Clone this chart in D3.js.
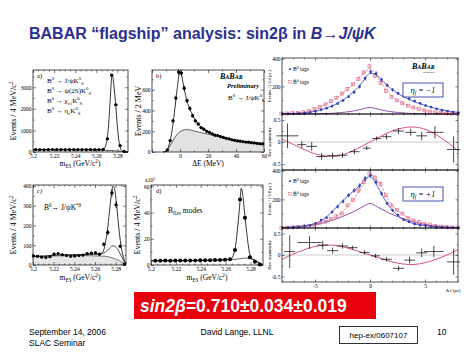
<!DOCTYPE html>
<html>
<head>
<meta charset="utf-8">
<script src="https://cdn.jsdelivr.net/npm/d3@7"></script>
<style>
  body { margin: 0; background: #fff; }
  svg { display: block; }
</style>
</head>
<body>
<div id="chart"></div>
<script>
// ---------- data ----------

// (a) m_ES for B0 -> charmonium K0S
const mesA = [5.2025, 5.2065, 5.2105, 5.2145, 5.2185, 5.2225, 5.2265, 5.2305, 5.2345, 5.2385, 5.2425,
  5.2465, 5.2505, 5.2545, 5.2585, 5.2625, 5.2665, 5.2705, 5.2745, 5.2785, 5.2825, 5.2865];
const eventsA = [108, 112, 105, 110, 115, 108, 112, 110, 106, 114, 110, 112, 108, 115, 110, 112, 125, 610, 3560, 2190, 300, 20];
const fitA = [[5.2, 105], [5.21, 108], [5.22, 110], [5.23, 112], [5.24, 113], [5.25, 113], [5.26, 112], [5.265, 115],
  [5.267, 140], [5.269, 330], [5.2705, 700], [5.272, 1500], [5.273, 2300], [5.274, 3150], [5.2748, 3600],
  [5.2755, 3520], [5.2765, 3150], [5.2775, 2650], [5.2785, 2100], [5.2795, 1450], [5.281, 650], [5.2825, 250],
  [5.284, 80], [5.286, 25], [5.288, 8], [5.29, 0]];
const bkgA = [[5.2, 100], [5.22, 102], [5.24, 100], [5.26, 90], [5.27, 75], [5.28, 50], [5.285, 30], [5.29, 0]];

// (b) Delta E for B0 -> J/psi K0L
const deB = [-9, -7, -5, -3, -1, 1, 3, 5, 7, 9, 11, 13, 15, 17, 19, 21, 23, 25, 27, 29, 31, 33, 35, 37, 39,
  41, 43, 45, 47, 49, 51, 53, 55, 57, 59];
const eventsB = [20, 110, 300, 520, 770, 760, 615, 495, 420, 350, 300, 270, 235, 220, 200, 190, 175, 162, 158,
  148, 140, 132, 127, 118, 112, 108, 104, 100, 96, 95, 90, 87, 84, 80, 78];
const fitB = [[-12, 0], [-10, 10], [-8, 60], [-6, 180], [-4, 380], [-2, 610], [-1, 720], [0, 765], [1, 750], [2, 680],
  [3, 610], [4, 545], [5, 490], [7, 415], [9, 355], [11, 305], [13, 268], [15, 240], [17, 218], [20, 195],
  [25, 165], [30, 145], [35, 126], [40, 110], [45, 100], [50, 92], [55, 84], [60, 78]];
const bkgB = [[-12, 0], [-10, 8], [-8, 40], [-6, 90], [-4, 135], [-2, 170], [0, 195], [2, 210], [4, 216], [6, 215],
  [8, 210], [10, 203], [14, 190], [20, 172], [25, 158], [30, 143], [35, 126], [40, 110], [45, 100], [50, 92],
  [55, 84], [60, 78]];

// (c) m_ES for B0 -> J/psi K*0
const mesC = [5.2004, 5.2044, 5.2084, 5.2124, 5.2164, 5.2204, 5.2244, 5.2284, 5.2324, 5.2364, 5.2404, 5.2444,
  5.2484, 5.2524, 5.2564, 5.2604, 5.2644, 5.2684, 5.2724, 5.2764, 5.2804, 5.2844, 5.2884];
const eventsC = [46, 44, 40, 38, 42, 55, 58, 52, 48, 44, 46, 48, 50, 58, 60, 62, 55, 105, 165, 365, 305, 95, 5];
const fitC = [[5.2, 45], [5.21, 45], [5.22, 50], [5.23, 52], [5.24, 52], [5.25, 53], [5.26, 55], [5.265, 57],
  [5.268, 70], [5.27, 110], [5.272, 175], [5.274, 270], [5.276, 365], [5.2775, 400], [5.279, 385], [5.281, 300],
  [5.283, 190], [5.285, 105], [5.287, 50], [5.289, 15], [5.29, 5]];
const peakBkgC = [[5.26, 55], [5.265, 57], [5.27, 65], [5.274, 85], [5.277, 97], [5.28, 92], [5.283, 70],
  [5.286, 40], [5.289, 12], [5.29, 5]];
const bkgC = [[5.2, 42], [5.21, 44], [5.22, 46], [5.23, 47], [5.24, 48], [5.25, 48], [5.26, 46], [5.27, 44],
  [5.28, 30], [5.285, 18], [5.29, 0]];

// (d) m_ES for B_flav modes (x10^3)
const mesD = [5.2035, 5.2075, 5.2115, 5.2155, 5.2195, 5.2235, 5.2275, 5.2315, 5.2355, 5.2395, 5.2435, 5.2475,
  5.2515, 5.2555, 5.2595, 5.2635, 5.2675, 5.2715, 5.2755, 5.2795, 5.2835, 5.2875];
const eventsD = [3.2, 3.3, 3.4, 3.3, 3.4, 3.5, 3.4, 3.5, 3.5, 3.6, 3.6, 3.7, 3.8, 3.9, 4.0, 4.3, 11.4, 50, 36, 6, 2.5, 0.4];
const fitD = [[5.2, 3.2], [5.24, 3.5], [5.26, 4.0], [5.264, 4.5], [5.266, 7], [5.268, 15], [5.27, 32], [5.2715, 48],
  [5.2725, 58.5], [5.2735, 55], [5.275, 42], [5.277, 24], [5.279, 10], [5.281, 5], [5.284, 3.5], [5.287, 1.5], [5.29, 0]];
const bkgD = [[5.2, 3.2], [5.24, 3.5], [5.26, 3.9], [5.27, 4.6], [5.276, 5.3], [5.28, 4.8], [5.284, 3.2], [5.288, 1.2], [5.29, 0]];

// Delta t distributions, 0.5 ps bins
const tBins = [-8, -7.5, -7, -6.5, -6, -5.5, -5, -4.5, -4, -3.5, -3, -2.5, -2, -1.5, -1, -0.5, 0,
  0.5, 1, 1.5, 2, 2.5, 3, 3.5, 4, 4.5, 5, 5.5, 6, 6.5, 7, 7.5, 8];

// eta_f = -1
const b0TagsNeg = [1, 2, 2, 4, 6, 12, 20, 30, 42, 57, 75, 98, 125, 158, 198, 258, 305,
  292, 248, 208, 175, 150, 130, 110, 94, 78, 62, 50, 38, 28, 20, 14, 9];
const b0barTagsNeg = [3, 4, 6, 9, 13, 22, 35, 52, 70, 92, 118, 148, 182, 215, 255, 300, 345,
  275, 225, 165, 125, 98, 78, 60, 47, 35, 26, 18, 12, 8, 5, 3, 2];
const b0FitNeg = [1, 2, 3, 5, 8, 13, 20, 30, 42, 57, 76, 99, 127, 160, 200, 250, 295,
  288, 250, 212, 178, 150, 127, 107, 90, 75, 62, 50, 40, 31, 23, 17, 12];
const b0barFitNeg = [3, 5, 7, 10, 15, 23, 35, 51, 70, 92, 118, 148, 182, 218, 258, 300, 325,
  285, 228, 172, 130, 99, 77, 60, 46, 35, 26, 19, 14, 10, 7, 5, 3];
const bkgNeg = [0, 0, 0, 0, 0, 1, 1, 2, 3, 5, 8, 11, 16, 22, 30, 40, 47,
  40, 30, 22, 16, 11, 8, 5, 3, 2, 1, 1, 0, 0, 0, 0, 0];

// eta_f = +1
const b0TagsPos = [2, 4, 6, 9, 15, 18, 32, 55, 72, 112, 148, 185, 228, 262, 295, 345, 368,
  320, 240, 172, 124, 90, 58, 44, 28, 20, 18, 10, 8, 6, 4, 3, 2];
const b0barTagsPos = [1, 3, 4, 8, 9, 16, 20, 35, 44, 65, 82, 101, 158, 195, 262, 320, 380,
  352, 308, 228, 158, 125, 101, 70, 52, 42, 28, 24, 15, 10, 9, 4, 3];
const b0FitPos = [3, 5, 7, 10, 14, 20, 30, 48, 75, 110, 150, 190, 225, 258, 292, 335, 360,
  315, 245, 178, 126, 88, 60, 42, 30, 22, 16, 12, 9, 7, 5, 4, 3];
const b0barFitPos = [2, 3, 5, 7, 10, 16, 24, 36, 48, 64, 86, 115, 155, 198, 255, 318, 370,
  350, 300, 218, 160, 124, 96, 72, 53, 40, 30, 22, 16, 11, 8, 5, 3];
const bkgPos = [2, 3, 5, 8, 12, 17, 24, 32, 42, 53, 66, 80, 96, 114, 134, 155, 172,
  155, 134, 114, 96, 80, 66, 53, 42, 32, 24, 17, 12, 8, 5, 3, 2];

// raw asymmetry points (value, x error, y error)
const asymNegT = [-7.5, -6.2, -5.3, -4.4, -3.4, -2.5, -1.4, -0.3, 0.6, 1.5, 2.6, 3.7, 4.7, 5.9, 7.6];
const asymNeg = [0.14, -0.06, -0.1, -0.33, -0.31, -0.3, -0.22, -0.14, 0.08, 0.12, 0.25, 0.22, 0.14, 0.22, -0.17];
const asymNegTErr = [1.0, 0.4, 0.5, 0.5, 0.5, 0.45, 0.45, 0.35, 0.4, 0.45, 0.5, 0.5, 0.5, 0.8, 0.6];
const asymNegErr = [0.28, 0.08, 0.1, 0.08, 0.07, 0.06, 0.06, 0.05, 0.05, 0.06, 0.07, 0.08, 0.1, 0.14, 0.3];

const asymPosT = [-7.3, -5.5, -4.3, -3.4, -2.5, -1.6, -0.5, 0.5, 1.5, 2.6, 3.6, 4.7, 5.8, 7.6];
const asymPos = [0.08, 0.29, 0.23, 0.1, 0.21, 0.17, 0.06, -0.02, -0.1, -0.31, -0.12, 0.05, 0.08, -0.16];
const asymPosTErr = [0.5, 1.1, 0.5, 0.5, 0.5, 0.45, 0.45, 0.4, 0.5, 0.5, 0.5, 0.5, 0.9, 0.6];
const asymPosErr = [0.38, 0.15, 0.1, 0.07, 0.06, 0.05, 0.05, 0.05, 0.05, 0.06, 0.08, 0.1, 0.13, 0.3];

// fitted asymmetry curves, 1 ps steps
const fitT = [-8, -7, -6, -5, -4, -3, -2, -1, 0, 1, 2, 3, 4, 5, 6, 7, 8];
const asymFitNeg = [0.06, -0.05, -0.17, -0.27, -0.32, -0.32, -0.25, -0.13, 0.0, 0.13, 0.25, 0.32, 0.34, 0.29, 0.17, 0.0, -0.2];
const asymFitPos = [-0.1, 0.02, 0.12, 0.2, 0.23, 0.22, 0.16, 0.08, 0.0, -0.08, -0.16, -0.21, -0.22, -0.18, -0.1, 0.0, 0.12];

const mesTicks = [5.2, 5.22, 5.24, 5.26, 5.28];
const mesMinor = [5.205, 5.21, 5.215, 5.225, 5.23, 5.235, 5.245, 5.25, 5.255, 5.265, 5.27, 5.275, 5.285];

// ---------- setup ----------
const serif = "'Liberation Serif', 'DejaVu Serif', serif";
const sans = "'Liberation Sans', Arial, sans-serif";
const blue = "#2f3fbf", pink = "#e0607c", purple = "#8a3f9e";

const svg = d3.select("#chart").append("svg")
  .attr("width", 474).attr("height", 355)
  .style("font-family", serif);

// title
const title = svg.append("text").attr("x", 29).attr("y", 39)
  .style("font-family", sans).style("font-weight", "bold").style("font-size", "16px")
  .attr("fill", "#2b2f8f");
title.append("tspan").text("BABAR \u201cflagship\u201d analysis: sin2\u03b2 in ");
title.append("tspan").style("font-style", "italic").text("B\u2192J/\u03c8K");

// text with sub/superscripts: parts = [[string, "sup"|"sub"|null], ...]
function rich(g, x, y, parts, size) {
  const t = g.append("text").attr("x", x).attr("y", y).style("font-size", size + "px").attr("fill", "#000");
  let shift = 0;
  parts.forEach(([s, kind]) => {
    const target = kind === "sup" ? -size * 0.38 : kind === "sub" ? size * 0.28 : 0;
    t.append("tspan").attr("dy", target - shift)
      .style("font-size", (kind ? size * 0.68 : size) + "px").text(s);
    shift = target;
  });
  return t;
}

function panel(left, top, w, h, xDomain, yDomain) {
  const g = svg.append("g").attr("transform", `translate(${left},${top})`);
  const x = d3.scaleLinear().domain(xDomain).range([0, w]);
  const y = d3.scaleLinear().domain(yDomain).range([h, 0]);
  return { g, x, y, w, h };
}

function drawAxes(p, o) {
  const { g, x, y, w, h } = p;
  const tk = o.tick || 3;
  const fs = o.fs || 5.5;
  const style = (sel) => {
    sel.select(".domain").remove();
    sel.selectAll("line").attr("stroke", "#000").attr("stroke-width", 0.5);
    sel.selectAll("text").style("font-family", serif).style("font-size", fs + "px").attr("fill", "#000");
  };
  const add = (axis, tx, ty) => g.append("g").attr("transform", `translate(${tx},${ty})`).call(axis).call(style);
  const none = () => "";
  add(d3.axisBottom(x).tickValues(o.xTicks).tickSizeInner(-tk).tickSizeOuter(0).tickPadding(2)
    .tickFormat(o.xLabels ? (d) => String(d) : none), 0, h);
  add(d3.axisTop(x).tickValues(o.xTicks).tickSizeInner(-tk).tickSizeOuter(0).tickFormat(none), 0, 0);
  if (o.xMinor) {
    add(d3.axisBottom(x).tickValues(o.xMinor).tickSizeInner(-tk / 2).tickSizeOuter(0).tickFormat(none), 0, h);
    add(d3.axisTop(x).tickValues(o.xMinor).tickSizeInner(-tk / 2).tickSizeOuter(0).tickFormat(none), 0, 0);
  }
  add(d3.axisLeft(y).tickValues(o.yTicks).tickSizeInner(-tk).tickSizeOuter(0).tickPadding(1.5)
    .tickFormat(o.yLabels === false ? none : (d) => String(d)), 0, 0);
  add(d3.axisRight(y).tickValues(o.yTicks).tickSizeInner(-tk).tickSizeOuter(0).tickFormat(none), w, 0);
  if (o.yMinor) {
    add(d3.axisLeft(y).tickValues(o.yMinor).tickSizeInner(-tk / 2).tickSizeOuter(0).tickFormat(none), 0, 0);
    add(d3.axisRight(y).tickValues(o.yMinor).tickSizeInner(-tk / 2).tickSizeOuter(0).tickFormat(none), w, 0);
  }
  g.append("rect").attr("width", w).attr("height", h)
    .attr("fill", "none").attr("stroke", "#000").attr("stroke-width", 0.7);
}

function yTitle(x, y, parts, size) {
  const g = svg.append("g").attr("transform", `translate(${x},${y}) rotate(-90)`);
  rich(g, 0, 0, parts, size).attr("text-anchor", "middle");
}

function curve(p, pts, o = {}) {
  const line = d3.line().x((d) => p.x(d[0])).y((d) => p.y(d[1])).curve(o.curve || d3.curveMonotoneX);
  return p.g.append("path").datum(pts).attr("d", line).attr("fill", "none")
    .attr("stroke", o.color || "#000").attr("stroke-width", o.width || 0.8)
    .attr("stroke-dasharray", o.dash || null);
}

function shade(p, pts, color) {
  const area = d3.area().x((d) => p.x(d[0])).y0(p.h).y1((d) => p.y(d[1])).curve(d3.curveMonotoneX);
  p.g.append("path").datum(pts).attr("d", area).attr("fill", color);
}

// black data points with Poisson error bars
function dots(p, xs, ys, unit, r) {
  const g = p.g.append("g");
  const data = xs.map((d, i) => [d, ys[i]]);
  g.selectAll("line.v").data(data).join("line")
    .attr("x1", (d) => p.x(d[0])).attr("x2", (d) => p.x(d[0]))
    .attr("y1", (d) => p.y(d[1] + Math.sqrt(d[1] * unit) / unit))
    .attr("y2", (d) => p.y(Math.max(0, d[1] - Math.sqrt(d[1] * unit) / unit)))
    .attr("stroke", "#000").attr("stroke-width", 0.8);
  g.selectAll("line.h").data(data).join("line")
    .attr("x1", (d) => p.x(d[0]) - 1.6).attr("x2", (d) => p.x(d[0]) + 1.6)
    .attr("y1", (d) => p.y(d[1])).attr("y2", (d) => p.y(d[1]))
    .attr("stroke", "#000").attr("stroke-width", 0.8);
  g.selectAll("circle").data(data).join("circle")
    .attr("cx", (d) => p.x(d[0])).attr("cy", (d) => p.y(d[1])).attr("r", r || 1.6).attr("fill", "#000");
}

const mesLabel = [["m", null], ["ES", "sub"], [" (GeV/c", null], ["2", "sup"], [")", null]];
const perMeV = [["Events / 4 MeV/c", null], ["2", "sup"]];

// ---------- (a) ----------
const pa = panel(33, 70, 95, 82, [5.2, 5.29], [0, 3800]);
curve(pa, bkgA, { width: 0.6 });
curve(pa, fitA);
dots(pa, mesA, eventsA, 1);
drawAxes(pa, { xTicks: mesTicks, xMinor: mesMinor, xLabels: true, yTicks: [0, 1000, 2000, 3000],
  yMinor: [500, 1500, 2500, 3500] });
pa.g.append("text").attr("x", 4).attr("y", 8).style("font-size", "6.5px").text("a)");
rich(pa.g, 14, 13, [["B", null], ["0", "sup"], [" \u2192 J/\u03c8K", null], ["0", "sup"], ["S", "sub"]], 7);
rich(pa.g, 14, 23, [["B", null], ["0", "sup"], [" \u2192 \u03c8(2S)K", null], ["0", "sup"], ["S", "sub"]], 7);
rich(pa.g, 14, 33, [["B", null], ["0", "sup"], [" \u2192 \u03c7", null], ["c1", "sub"], ["K", null], ["0", "sup"], ["S", "sub"]], 7);
rich(pa.g, 14, 43, [["B", null], ["0", "sup"], [" \u2192 \u03b7", null], ["c", "sub"], ["K", null], ["0", "sup"], ["S", "sub"]], 7);
yTitle(16, 111, perMeV, 8);
rich(svg, 80, 166, mesLabel, 7.5).attr("text-anchor", "middle");

// ---------- (b) ----------
const pb = panel(152, 70, 112, 82, [-20, 60], [0, 790]);
shade(pb, bkgB, "#e2e2e2");
curve(pb, bkgB, { width: 0.6 });
curve(pb, fitB);
dots(pb, deB, eventsB, 1);
drawAxes(pb, { xTicks: [-20, 0, 20, 40, 60], xMinor: [-10, 10, 30, 50], xLabels: true,
  yTicks: [0, 200, 400, 600], yMinor: [100, 300, 500, 700] });
pb.g.select("g .tick text").text("");
pb.g.append("text").attr("x", 4).attr("y", 8).style("font-size", "6.5px").text("b)");
const babarB = pb.g.append("text").attr("x", 68).attr("y", 9).style("font-weight", "bold").style("font-style", "italic");
babarB.append("tspan").style("font-size", "8px").text("B");
babarB.append("tspan").style("font-size", "6px").text("A");
babarB.append("tspan").style("font-size", "8px").text("B");
babarB.append("tspan").style("font-size", "6px").text("AR");
pb.g.append("text").attr("x", 75).attr("y", 18).style("font-size", "6.5px")
  .style("font-weight", "bold").style("font-style", "italic").text("Preliminary");
rich(pb.g, 76, 30, [["B", null], ["0", "sup"], [" \u2192 J/\u03c8K", null], ["0", "sup"], ["L", "sub"]], 7);
yTitle(141, 111, [["Events / 2 MeV", null]], 8);
svg.append("text").attr("x", 208).attr("y", 166).attr("text-anchor", "middle").style("font-size", "7.5px").text("\u0394E (MeV)");

// ---------- (c) ----------
const pc = panel(33, 185, 93, 80, [5.2, 5.29], [0, 405]);
shade(pc, bkgC, "#e6e6e6");
curve(pc, bkgC, { width: 0.5 });
curve(pc, peakBkgC, { width: 0.7 });
curve(pc, fitC);
dots(pc, mesC, eventsC, 1);
drawAxes(pc, { xTicks: mesTicks, xMinor: mesMinor, xLabels: true, yTicks: [0, 100, 200, 300, 400],
  yMinor: [50, 150, 250, 350] });
pc.g.append("text").attr("x", 4).attr("y", 8).style("font-size", "6.5px").style("font-style", "italic").text("c)");
rich(pc.g, 11, 25, [["B", null], ["0", "sup"], ["\u2192 J/\u03c8K", null], ["*0", "sup"]], 7.5);
yTitle(16, 225, perMeV, 8);
rich(svg, 80, 280, mesLabel, 7.5).attr("text-anchor", "middle");

// ---------- (d) ----------
const pd = panel(151, 185, 112, 80, [5.2, 5.29], [0, 61]);
curve(pd, bkgD, { width: 0.6 });
curve(pd, fitD);
dots(pd, mesD, eventsD, 1000, 2);
drawAxes(pd, { xTicks: mesTicks, xMinor: mesMinor, xLabels: true, yTicks: [0, 20, 40, 60],
  yMinor: [10, 30, 50] });
pd.g.append("text").attr("x", 5).attr("y", 8).style("font-size", "6.5px").text("d)");
rich(svg, 145, 182, [["x10", null], ["3", "sup"]], 5.5);
rich(pd.g, 17, 28, [["B", null], ["flav", "sub"], [" modes", null]], 7.5);
yTitle(140, 225, perMeV, 8);
rich(svg, 207, 280, mesLabel, 7.5).attr("text-anchor", "middle");

// ---------- Delta t panels ----------
const tTicks = [-5, 0, 5];
const tMinor = [-8, -7, -6, -4, -3, -2, -1, 1, 2, 3, 4, 6, 7, 8];

function eventsPanel(top, h, b0, b0bar, b0Fit, b0barFit, bkg, eta) {
  const p = panel(282, top, 176, h, [-8, 8], [0, 405]);
  const pts = (vals) => tBins.map((t, i) => [t, vals[i]]);
  curve(p, pts(bkg), { color: purple, width: 0.9 });
  curve(p, pts(b0barFit), { color: pink, width: 0.8, dash: "2,1.5" });
  curve(p, pts(b0Fit), { color: blue, width: 0.8 });
  // B0bar tags: open squares
  const gbar = p.g.append("g");
  gbar.selectAll("line").data(pts(b0bar)).join("line")
    .attr("x1", (d) => p.x(d[0]) - 0.6).attr("x2", (d) => p.x(d[0]) - 0.6)
    .attr("y1", (d) => p.y(d[1] + Math.sqrt(d[1]))).attr("y2", (d) => p.y(Math.max(0, d[1] - Math.sqrt(d[1]))))
    .attr("stroke", pink).attr("stroke-width", 0.6);
  gbar.selectAll("rect").data(pts(b0bar)).join("rect")
    .attr("x", (d) => p.x(d[0]) - 2.1).attr("y", (d) => p.y(d[1]) - 1.5)
    .attr("width", 3).attr("height", 3).attr("fill", "none").attr("stroke", pink).attr("stroke-width", 0.6);
  // B0 tags: filled circles
  const gb = p.g.append("g");
  gb.selectAll("line").data(pts(b0)).join("line")
    .attr("x1", (d) => p.x(d[0]) + 0.6).attr("x2", (d) => p.x(d[0]) + 0.6)
    .attr("y1", (d) => p.y(d[1] + Math.sqrt(d[1]))).attr("y2", (d) => p.y(Math.max(0, d[1] - Math.sqrt(d[1]))))
    .attr("stroke", blue).attr("stroke-width", 0.8);
  gb.selectAll("circle").data(pts(b0)).join("circle")
    .attr("cx", (d) => p.x(d[0]) + 0.6).attr("cy", (d) => p.y(d[1])).attr("r", 1.3).attr("fill", blue);
  drawAxes(p, { xTicks: tTicks, xMinor: tMinor, xLabels: false, yTicks: [200, 400], yMinor: [100, 300], tick: 2.5 });

  // legend
  p.g.append("circle").attr("cx", 8).attr("cy", 11).attr("r", 1.1).attr("fill", blue);
  rich(p.g, 11, 13, [["B", null], ["0", "sup"], [" tags", null]], 5.5);
  p.g.append("rect").attr("x", 6.6).attr("y", 22.5).attr("width", 2.6).attr("height", 2.6)
    .attr("fill", "none").attr("stroke", pink).attr("stroke-width", 0.5);
  rich(p.g, 11, 26, [["B\u0304", null], ["0", "sup"], [" tags", null]], 5.5);

  // eta_f box
  const bx = p.g.append("g").attr("transform", `translate(121,${eta < 0 ? 25 : 17})`);
  bx.append("rect").attr("width", 40).attr("height", 14).attr("fill", "#fff")
    .attr("stroke", "#3344aa").attr("stroke-width", 0.9);
  rich(bx, 20, 10, [["\u03b7", null], ["f", "sub"], [eta < 0 ? "  =  \u22121" : "  =  +1", null]], 8)
    .attr("text-anchor", "middle").style("font-style", "italic");
  return p;
}

function asymPanel(top, h, span, ts, vals, tErr, vErr, fit, last) {
  const p = panel(282, top, 176, h, [-8, 8], [-span, span]);
  p.g.append("line").attr("x1", 0).attr("x2", p.w).attr("y1", p.y(0)).attr("y2", p.y(0))
    .attr("stroke", "#aaa").attr("stroke-width", 0.6);
  curve(p, fitT.map((t, i) => [t, fit[i]]), { color: "#d9546e", width: 1, curve: d3.curveCatmullRom });
  const data = ts.map((t, i) => ({ t, v: vals[i], et: tErr[i], ev: vErr[i] }));
  const g = p.g.append("g");
  g.selectAll("line.h").data(data).join("line")
    .attr("x1", (d) => p.x(d.t - d.et)).attr("x2", (d) => p.x(d.t + d.et))
    .attr("y1", (d) => p.y(d.v)).attr("y2", (d) => p.y(d.v))
    .attr("stroke", "#000").attr("stroke-width", 0.7);
  g.selectAll("line.v").data(data).join("line")
    .attr("x1", (d) => p.x(d.t)).attr("x2", (d) => p.x(d.t))
    .attr("y1", (d) => p.y(d.v - d.ev)).attr("y2", (d) => p.y(d.v + d.ev))
    .attr("stroke", "#000").attr("stroke-width", 0.7);
  drawAxes(p, { xTicks: tTicks, xMinor: tMinor, xLabels: last, yTicks: [-0.5, 0, 0.5],
    yMinor: [-0.25, 0.25], tick: 2.5 });
  return p;
}

const e1 = eventsPanel(58, 56, b0TagsNeg, b0barTagsNeg, b0FitNeg, b0barFitNeg, bkgNeg, -1);
asymPanel(114, 56, 0.636, asymNegT, asymNeg, asymNegTErr, asymNegErr, asymFitNeg, false);
eventsPanel(170, 58, b0TagsPos, b0barTagsPos, b0FitPos, b0barFitPos, bkgPos, 1);
asymPanel(228, 54, 0.628, asymPosT, asymPos, asymPosTErr, asymPosErr, asymFitPos, true);

// BABAR logo on the top right panel
const logo = e1.g.append("text").attr("x", 130).attr("y", 11).style("font-weight", "bold").style("font-style", "italic");
logo.append("tspan").style("font-size", "8px").text("B");
logo.append("tspan").style("font-size", "6px").text("A");
logo.append("tspan").style("font-size", "8px").text("B");
logo.append("tspan").style("font-size", "6px").text("AR");
e1.g.append("text").attr("x", 141).attr("y", 15).style("font-size", "2.5px").text("preliminary");

// small rotated axis titles of the right column
yTitle(271, 86, [["Events / ( 0.4 ps )", null]], 4.5);
yTitle(271, 142, [["Raw asymmetry", null]], 4.5);
yTitle(271, 199, [["Events / ( 0.8 ps )", null]], 4.5);
yTitle(271, 255, [["Raw asymmetry", null]], 4.5);
svg.append("text").attr("x", 453).attr("y", 292).attr("text-anchor", "middle")
  .style("font-size", "5px").text("\u0394 t [ps]");

// ---------- result box ----------
svg.append("rect").attr("x", 134).attr("y", 292).attr("width", 242).attr("height", 27).attr("fill", "#e8000b");
const res = svg.append("text").attr("x", 140).attr("y", 312)
  .style("font-family", sans).style("font-weight", "bold").style("font-size", "17.5px").attr("fill", "#fff");
res.append("tspan").style("font-style", "italic").text("sin2\u03b2");
res.append("tspan").text("=0.710\u00b10.034\u00b10.019");

// ---------- footer ----------
const foot = svg.append("g").style("font-family", sans).style("font-size", "8.5px").attr("fill", "#000");
foot.append("text").attr("x", 29).attr("y", 335).text("September 14, 2006");
foot.append("text").attr("x", 29).attr("y", 346).text("SLAC Seminar");
foot.append("text").attr("x", 237).attr("y", 335).attr("text-anchor", "middle").text("David Lange, LLNL");
svg.append("rect").attr("x", 339.5).attr("y", 326.5).attr("width", 78).attr("height", 17)
  .attr("fill", "none").attr("stroke", "#000").attr("stroke-width", 0.8);
foot.append("text").attr("x", 378.5).attr("y", 338).attr("text-anchor", "middle").style("font-size", "8px").text("hep-ex/0607107");
foot.append("text").attr("x", 437).attr("y", 335).text("10");
</script>
</body>
</html>
